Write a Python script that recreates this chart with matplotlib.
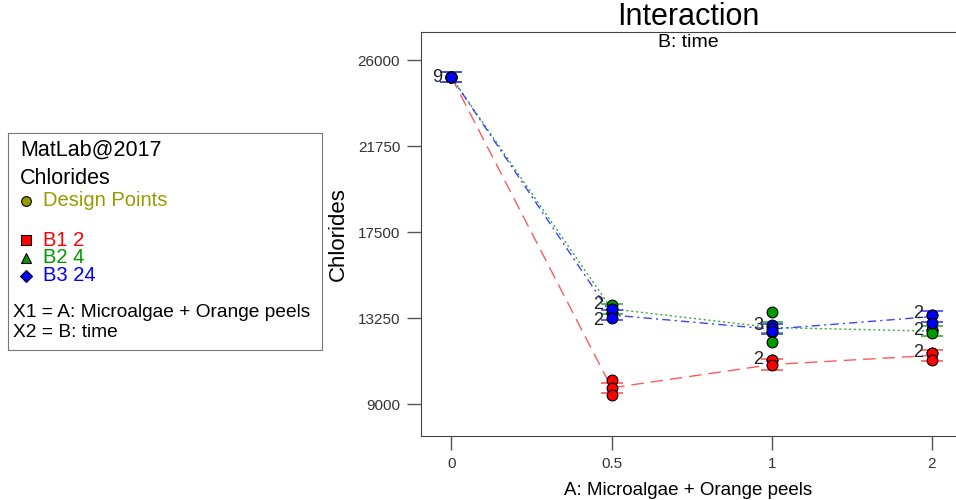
import matplotlib.pyplot as plt

plt.rcParams['font.family'] = ['Liberation Sans', 'DejaVu Sans']

# factor levels
a_labels = ['0', '0.5', '1', '2']
a_pos = [0, 1, 2, 3]

# predicted means per B level
b1_mean = [25150, 9800, 10950, 11400]
b2_mean = [25150, 13700, 12780, 12600]
b3_mean = [25150, 13400, 12700, 13320]
lsd = 260

# design points (replicates)
b1_pts = [[25150, 25150, 25150], [10185, 9790, 9444], [11175, 11175, 10930], [11520, 11520, 11175]]
b2_pts = [[25150, 25150, 25150], [13890, 13500, 13500], [13545, 12560, 12063], [12660, 12660, 12500]]
b3_pts = [[25150, 25150, 25150], [13695, 13695, 13250], [12900, 12750, 12600], [13400, 13400, 13000]]

# count labels (x index, value, text)
counts = [(0, 25150, '9'), (1, 13900, '2'), (1, 13150, '2'), (2, 12900, '3'),
          (2, 11175, '2'), (3, 13460, '2'), (3, 12640, '2'), (3, 11560, '2')]

series = [
    (b1_mean, b1_pts, '#ff0000', '#ff5a5a', (0, (9, 5))),
    (b2_mean, b2_pts, '#009900', '#33b033', (0, (1.5, 2))),
    (b3_mean, b3_pts, '#0000ff', '#4040ff', (0, (6, 3, 1.5, 3))),
]

fig = plt.figure(figsize=(9.56, 5), dpi=100)
ax = fig.add_axes([421 / 956, 1 - 436 / 500, 1 - 421 / 956, 404 / 500])

for mean, pts, col, lcol, ls in series:
    ax.plot(a_pos, mean, color=lcol, lw=1, linestyle=ls, zorder=2)
    ax.errorbar(a_pos, mean, yerr=lsd, fmt='none', ecolor=lcol, elinewidth=1,
                capsize=8, capthick=1.2, zorder=3)
    for i, vals in enumerate(pts):
        ax.scatter([a_pos[i]] * len(vals), vals, s=60, color=col,
                   edgecolors='black', linewidths=0.8, zorder=4)

for xi, yv, t in counts:
    ax.text(xi - 0.055, yv, t, ha='right', va='center', fontsize=13,
            color='#222222', zorder=5)

ax.set_xlim(-0.19, 3.15)
ax.set_ylim(7419, 27384)
ax.set_xticks(a_pos)
ax.set_xticklabels(a_labels)
ax.set_yticks([9000, 13250, 17500, 21750, 26000])
ax.tick_params(axis='both', direction='out', length=10, width=1,
               color='#555555', labelsize=11, labelcolor='#333333', pad=5)
for s in ['left', 'bottom', 'top']:
    ax.spines[s].set_color('#444444')
ax.spines['right'].set_visible(False)

ax.set_ylabel('Chlorides', fontsize=16, labelpad=6)
ax.set_xlabel('A: Microalgae + Orange peels', fontsize=13.5, labelpad=8)
ax.set_title('Interaction', fontsize=22, pad=1)
ax.text(0.5, 0.995, 'B: time', transform=ax.transAxes, ha='center', va='top',
        fontsize=14)

# info box on the left
lg = fig.add_axes([8 / 956, 1 - 350 / 500, 314 / 956, 217 / 500])
lg.set_xticks([])
lg.set_yticks([])
for s in lg.spines.values():
    s.set_color('#777777')
lg.set_xlim(0, 314)
lg.set_ylim(350, 133)

lg.text(12, 150, 'MatLab@2017', fontsize=15.5, va='center')
lg.text(12, 178, 'Chlorides', fontsize=15.5, va='center')
lg.plot(18, 201, 'o', ms=7, color='#999900', mec='black', mew=0.8)
lg.text(35, 201, 'Design Points', fontsize=14.5, va='center', color='#999900')
legend_items = [('s', '#ff0000', 'B1 2', 240), ('^', '#009900', 'B2 4', 258),
                ('D', '#0000ff', 'B3 24', 276)]
for m, c, t, y in legend_items:
    lg.plot(18, y, m, ms=7 if m != 'D' else 6, color=c, mec='black', mew=0.8)
    lg.text(35, y, t, fontsize=14.5, va='center', color=c)
lg.text(5, 313, 'X1 = A: Microalgae + Orange peels', fontsize=13.8, va='center')
lg.text(5, 333, 'X2 = B: time', fontsize=13.8, va='center')

fig.savefig('out.png', dpi=100)
